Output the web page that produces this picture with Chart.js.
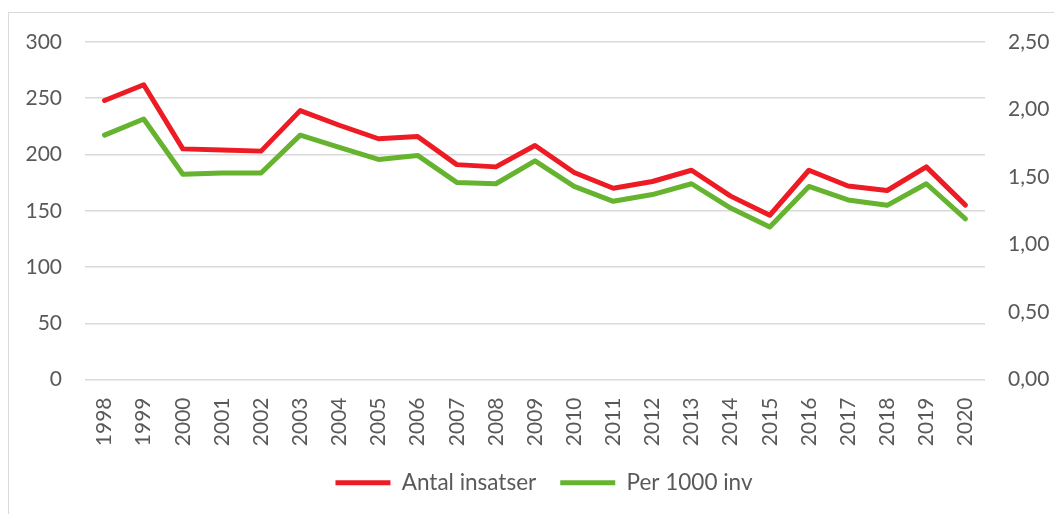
<!DOCTYPE html>
<html>
<head>
<meta charset="utf-8">
<script src="https://cdn.jsdelivr.net/npm/chart.js@4"></script>
<style>
  body { margin: 0; background: #fff; }
  #wrap { position: relative; width: 1054px; height: 514px; overflow: hidden; }
  #frame { position: absolute; left: 8px; top: 12px; width: 1100px; height: 600px;
           border-left: 1.5px solid #d9d9d9; border-top: 1.5px solid #d9d9d9; }
  #myChart { position: absolute; left: 0; top: 0; }
</style>
</head>
<body>
<div id="wrap">
  <div id="frame"></div>
  <canvas id="myChart" width="1054" height="514"></canvas>
</div>
<script>
// years on the x axis
let years = ['1998', '1999', '2000', '2001', '2002', '2003', '2004', '2005', '2006', '2007', '2008',
  '2009', '2010', '2011', '2012', '2013', '2014', '2015', '2016', '2017', '2018', '2019', '2020'];

// left axis
let antalInsatser = [248, 262, 205, 204, 203, 239, 226, 214, 216, 191, 189,
  208, 184, 170, 176, 186, 163, 146, 186, 172, 168, 189, 155];

// right axis
let per1000 = [1.81, 1.93, 1.52, 1.53, 1.53, 1.81, 1.72, 1.63, 1.66, 1.46, 1.45,
  1.62, 1.43, 1.32, 1.37, 1.45, 1.27, 1.13, 1.43, 1.33, 1.29, 1.45, 1.19];

let leftTicks = [0, 50, 100, 150, 200, 250, 300];
let rightTicks = [0, 0.5, 1, 1.5, 2, 2.5];

let fontFam = 'Lato, "Open Sans", sans-serif';
let textCol = '#595959';

Chart.defaults.font.family = fontFam;
Chart.defaults.font.size = 21;
Chart.defaults.color = textCol;

let data = {
  labels: years,
  datasets: [{
    label: 'Antal insatser',
    data: antalInsatser,
    borderColor: '#ED1C24',
    backgroundColor: '#ED1C24',
    borderWidth: 5,
    borderCapStyle: 'round',
    borderJoinStyle: 'round',
    yAxisID: 'y'
  }, {
    label: 'Per 1000 inv',
    data: per1000,
    borderColor: '#65B32E',
    backgroundColor: '#65B32E',
    borderWidth: 5,
    borderCapStyle: 'round',
    borderJoinStyle: 'round',
    yAxisID: 'y1'
  }]
};

// nudge the legend a bit right, like the original
let legendShift = {
  id: 'legendShift',
  afterLayout: function(chart) {
    chart.legend.left += 17;
    chart.legend.right += 17;
  }
};

const myChart = new Chart(document.getElementById('myChart'), {
  type: 'line',
  data: data,
  plugins: [legendShift],
  options: {
    responsive: false,
    animation: false,
    events: [],
    layout: { padding: { top: 42, left: 0, right: 0, bottom: 10 } },
    elements: {
      line: { tension: 0 },
      point: { radius: 0 }
    },
    plugins: {
      tooltip: { enabled: false },
      legend: {
        position: 'bottom',
        labels: {
          usePointStyle: true,
          pointStyle: 'line',
          pointStyleWidth: 55,
          padding: 24,
          font: { size: 22.5 }
        }
      }
    },
    scales: {
      x: {
        offset: true,
        grid: { display: false, drawTicks: false },
        border: { display: false },
        ticks: { minRotation: 90, maxRotation: 90, padding: 18, autoSkip: false },
        afterFit: function(scale) { scale.height = 68; }
      },
      y: {
        position: 'left',
        min: 0,
        max: 300,
        afterBuildTicks: function(scale) { scale.ticks = leftTicks.map(v => ({ value: v })); },
        grid: { color: '#d9d9d9', lineWidth: 1.5, drawTicks: false },
        border: { display: false },
        ticks: { padding: 23 },
        afterFit: function(scale) { scale.width = 85; }
      },
      y1: {
        position: 'right',
        min: 0,
        max: 2.5,
        afterBuildTicks: function(scale) { scale.ticks = rightTicks.map(v => ({ value: v })); },
        grid: { drawOnChartArea: false, drawTicks: false },
        border: { display: false },
        ticks: {
          padding: 23,
          callback: function(v) { return v.toFixed(2).replace('.', ','); }
        },
        afterFit: function(scale) { scale.width = 69; }
      }
    }
  }
});
</script>
</body>
</html>
